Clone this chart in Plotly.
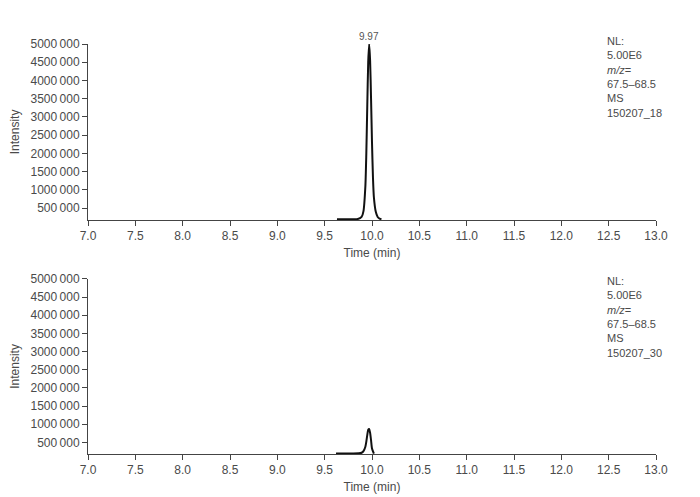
import plotly.graph_objects as go

# chromatogram, sample 150207_18
time_18 = [9.63, 9.85, 9.89, 9.91, 9.93, 9.94, 9.95, 9.96, 9.97, 9.98, 9.99,
           10.00, 10.01, 10.02, 10.04, 10.06, 10.08, 10.10]
intensity_18 = [200000, 205000, 260000, 420000, 1100000, 2000000, 3300000,
                4500000, 5000000, 4550000, 3500000, 2300000, 1350000, 800000,
                400000, 260000, 215000, 200000]

# chromatogram, sample 150207_30
time_30 = [9.62, 9.86, 9.89, 9.91, 9.93, 9.94, 9.95, 9.96, 9.97, 9.98, 9.99,
           10.00, 10.02]
intensity_30 = [195000, 200000, 215000, 260000, 380000, 520000, 700000, 850000,
                870000, 760000, 560000, 330000, 190000]

peak_label = "9.97"
peak_time = 9.97
peak_value = 5000000

x_ticks = [7.0, 7.5, 8.0, 8.5, 9.0, 9.5, 10.0, 10.5, 11.0, 11.5, 12.0, 12.5, 13.0]
y_ticks = [500000, 1000000, 1500000, 2000000, 2500000, 3000000, 3500000,
           4000000, 4500000, 5000000]
y_ticktext = ["500\u2009000", "1000\u2009000", "1500\u2009000", "2000\u2009000",
              "2500\u2009000", "3000\u2009000", "3500\u2009000", "4000\u2009000",
              "4500\u2009000", "5000\u2009000"]

info_18 = "NL:<br>5.00E6<br><i>m/z</i>=<br>67.5–68.5<br>MS<br>150207_18"
info_30 = "NL:<br>5.00E6<br><i>m/z</i>=<br>67.5–68.5<br>MS<br>150207_30"

AXIS = "#444444"
TEXT = "#4a4a4a"
FONT = "Liberation Sans, Arial, sans-serif"

fig = go.Figure()
fig.add_trace(go.Scatter(x=time_18, y=intensity_18, mode="lines",
                         line=dict(color="#111111", width=2, shape="spline", smoothing=0.6),
                         xaxis="x", yaxis="y", showlegend=False))
fig.add_trace(go.Scatter(x=time_30, y=intensity_30, mode="lines",
                         line=dict(color="#111111", width=2, shape="spline", smoothing=0.6),
                         xaxis="x2", yaxis="y2", showlegend=False))

xa = dict(range=[7, 13], tickvals=x_ticks, tickformat=".1f", showgrid=False,
          zeroline=False, showline=True, linecolor=AXIS, linewidth=1,
          ticks="outside", ticklen=5, tickcolor=AXIS, automargin=False,
          tickfont=dict(size=12, color=TEXT),
          title=dict(text="Time (min)", font=dict(size=12, color=TEXT), standoff=6))
ya = dict(range=[180000, 5000000], tickvals=y_ticks, ticktext=y_ticktext,
          showgrid=False, zeroline=False, showline=True, linecolor=AXIS, linewidth=1,
          ticks="outside", ticklen=5, tickcolor=AXIS, automargin=False,
          tickfont=dict(size=12, color=TEXT),
          title=dict(text="Intensity", font=dict(size=12, color=TEXT), standoff=9))

# page body has an 8px margin, so the figure is sized to fit inside the window
fig.update_layout(
    width=692, height=489,
    paper_bgcolor="white", plot_bgcolor="white",
    font=dict(family=FONT, color=TEXT),
    margin=dict(l=80, r=44, t=36, b=43),
    xaxis=dict(xa, domain=[0, 1], anchor="y"),
    yaxis=dict(ya, domain=[0.571, 1], anchor="x"),
    xaxis2=dict(xa, domain=[0, 1], anchor="y2"),
    yaxis2=dict(ya, domain=[0, 0.427], anchor="x2"),
)

fig.add_annotation(x=peak_time, y=peak_value, xref="x", yref="y", text=peak_label,
                   showarrow=False, yanchor="bottom", yshift=0,
                   font=dict(size=10, color="#555555"))
fig.add_annotation(x=0.910, y=1.026, xref="paper", yref="paper", text=info_18,
                   showarrow=False, xanchor="left", yanchor="top", align="left",
                   font=dict(size=11, color=TEXT))
fig.add_annotation(x=0.910, y=0.442, xref="paper", yref="paper", text=info_30,
                   showarrow=False, xanchor="left", yanchor="top", align="left",
                   font=dict(size=11, color=TEXT))

fig.write_html("out.html")
